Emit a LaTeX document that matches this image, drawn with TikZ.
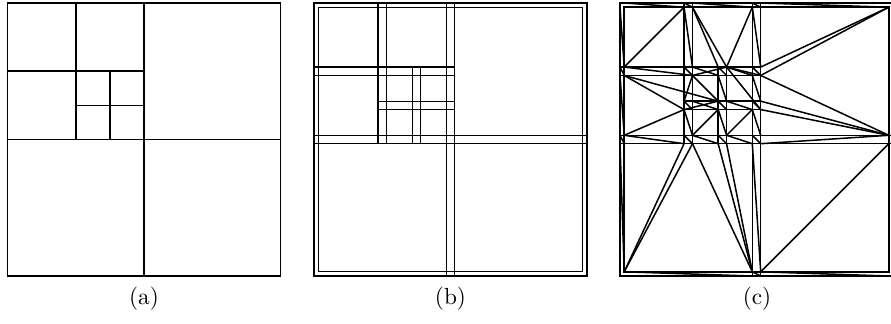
\documentclass[tikz,border=0pt]{standalone}
\begin{document}
\begin{tikzpicture}[x=0.43pt,y=-0.43pt,
  quad/.style={line width=0.7pt},
  strip/.style={line width=0.5pt},
  cstrip/.style={line width=0.65pt},
  tri/.style={line width=0.65pt},
  lab/.style={font=\normalsize, inner sep=0pt}]
\useasboundingbox (0,0) rectangle (891,323);
\newcommand\gridpts[1]{%
  \foreach \i/\xv in {0/0,1/4.2,2/64.05,3/72.45,4/98.175,5/106.575,6/132.3,7/140.7,8/268.8,9/273}{%
    \foreach \j/\yv in {0/0,1/4.2,2/64.05,3/72.45,4/98.175,5/106.575,6/132.3,7/140.7,8/268.8,9/273}{%
      \coordinate (#1\i\j) at (\xv,\yv);}}}
\newcommand\stripset[2]{%
  \draw[#2] (#100) rectangle (#199);
  \draw[#2] (#111) rectangle (#188);
  \draw[#2] (#160) rectangle (#179);
  \draw[#2] (#106) rectangle (#197);
  \draw[#2] (#120) rectangle (#137);
  \draw[#2] (#102) rectangle (#173);
  \draw[#2] (#142) rectangle (#157);
  \draw[#2] (#124) rectangle (#175);}
% panel (a)
\begin{scope}[shift={(7.5,3)}]
  \draw[quad] (0,0) rectangle (273,273);
  \draw[quad] (136.5,0) -- (136.5,273);
  \draw[quad] (0,136.5) -- (273,136.5);
  \draw[quad] (68.25,0) -- (68.25,136.5);
  \draw[quad] (0,68.25) -- (136.5,68.25);
  \draw[quad] (102.375,68.25) -- (102.375,136.5);
  \draw[quad] (68.25,102.375) -- (136.5,102.375);
\end{scope}
% panel (b)
\begin{scope}[shift={(314,3)}]
  \gridpts{q}
\end{scope}
\stripset{q}{strip}
% panel (c)
\begin{scope}[shift={(620,3)}]
  \gridpts{p}
\end{scope}
\stripset{p}{cstrip}
\foreach \u/\v in {12/21,31/42,31/52,61/52,72/81,73/81,73/86,74/86,75/86,78/87,
  18/27,18/37,68/37,68/47,68/57,13/25,13/44,16/25,12/33,33/44,33/52,52/73,52/75,
  45/36,56/65,25/44,65/76}
  \draw[tri] (p\u) -- (p\v);
\foreach \u/\v in {10/21,20/31,30/61,60/71,70/81,01/12,02/13,03/16,06/17,07/18,
  18/69,68/79,78/89,16/27,26/37,36/47,46/57,56/67,66/77,77/86,
  61/72,62/73,63/74,64/75,67/78,32/43,42/53,52/63,22/33,21/32,33/24,24/35,25/36,
  43/54,44/55,45/56,34/45,54/65}
  \draw[tri] (p\u) -- (p\v);
% labels
\node[lab] (la) at (144,299) {(a)};
\node[lab] (lb) at (450.5,299) {(b)};
\node[lab] (lc) at (757,299) {(c)};
\end{tikzpicture}
\end{document}
